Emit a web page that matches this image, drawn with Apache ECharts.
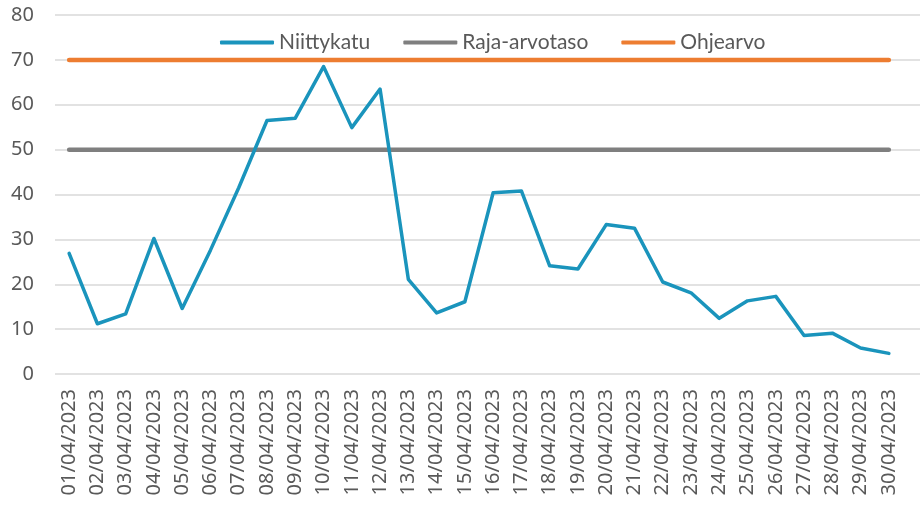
<!DOCTYPE html>
<html>
<head>
<meta charset="utf-8">
<script src="https://cdn.jsdelivr.net/npm/echarts@6/dist/echarts.min.js"></script>
<style>html,body{margin:0;padding:0;background:#fff}#c{width:920px;height:511px}</style>
</head>
<body>
<div id="c"></div>
<script>
const categories = ["01/04/2023","02/04/2023","03/04/2023","04/04/2023","05/04/2023","06/04/2023","07/04/2023","08/04/2023","09/04/2023","10/04/2023","11/04/2023","12/04/2023","13/04/2023","14/04/2023","15/04/2023","16/04/2023","17/04/2023","18/04/2023","19/04/2023","20/04/2023","21/04/2023","22/04/2023","23/04/2023","24/04/2023","25/04/2023","26/04/2023","27/04/2023","28/04/2023","29/04/2023","30/04/2023"];
const niittykatu = [26.9,11.2,13.4,30.2,14.6,27.6,41.5,56.5,57.0,68.5,54.9,63.5,21.1,13.6,16.1,40.4,40.8,24.1,23.4,33.3,32.5,20.5,18.1,12.4,16.3,17.3,8.6,9.1,5.8,4.6];
const rajaArvotaso = categories.map(() => 50);
const ohjearvo = categories.map(() => 70);
const yMin = 0, yMax = 80, yStep = 10;

const chart = echarts.init(document.getElementById('c'));
const labelColor = '#595959';
chart.setOption({
  animation: false,
  legend: {
    left: 215, top: 27,
    icon: 'roundRect', itemWidth: 54, itemHeight: 4, itemGap: 33,
    textStyle: { fontFamily: 'Lato', fontSize: 21, color: labelColor },
    data: ['Niittykatu', 'Raja-arvotaso', 'Ohjearvo']
  },
  grid: [
    { left: 55, right: 17, top: 15, bottom: 137, containLabel: false },
    { left: 55, right: 0, top: 15, bottom: 137, containLabel: false }
  ],
  xAxis: [
    {
      type: 'category', gridIndex: 0, data: categories, boundaryGap: true,
      axisLine: { show: false }, axisTick: { show: false },
      axisLabel: { rotate: 90, interval: 0, margin: 15, color: labelColor, fontFamily: 'Noto Sans', fontSize: 20 }
    },
    { type: 'category', gridIndex: 1, data: categories, show: false }
  ],
  yAxis: [
    {
      type: 'value', gridIndex: 0, min: yMin, max: yMax, interval: yStep,
      axisLine: { show: false }, axisTick: { show: false }, splitLine: { show: false },
      axisLabel: { margin: 21, color: labelColor, fontFamily: 'Noto Sans', fontSize: 20 }
    },
    {
      type: 'value', gridIndex: 1, min: yMin, max: yMax, interval: yStep,
      axisLine: { show: false }, axisTick: { show: false }, axisLabel: { show: false },
      splitLine: { lineStyle: { color: '#D9D9D9', width: 1.5 } }
    }
  ],
  series: [
    {
      name: 'Niittykatu', type: 'line', data: niittykatu, showSymbol: false, symbol: 'none',
      xAxisIndex: 0, yAxisIndex: 0, z: 5,
      itemStyle: { color: '#1A94BC' },
      lineStyle: { color: '#1A94BC', width: 3.5, cap: 'round', join: 'round' }
    },
    {
      name: 'Raja-arvotaso', type: 'line', data: rajaArvotaso, showSymbol: false, symbol: 'none',
      xAxisIndex: 0, yAxisIndex: 0, z: 3,
      itemStyle: { color: '#7F7F7F' },
      lineStyle: { color: '#7F7F7F', width: 4.5, cap: 'round' }
    },
    {
      name: 'Ohjearvo', type: 'line', data: ohjearvo, showSymbol: false, symbol: 'none',
      xAxisIndex: 0, yAxisIndex: 0, z: 3,
      itemStyle: { color: '#ED7D31' },
      lineStyle: { color: '#ED7D31', width: 4.5, cap: 'round' }
    }
  ]
});
</script>
</body>
</html>
